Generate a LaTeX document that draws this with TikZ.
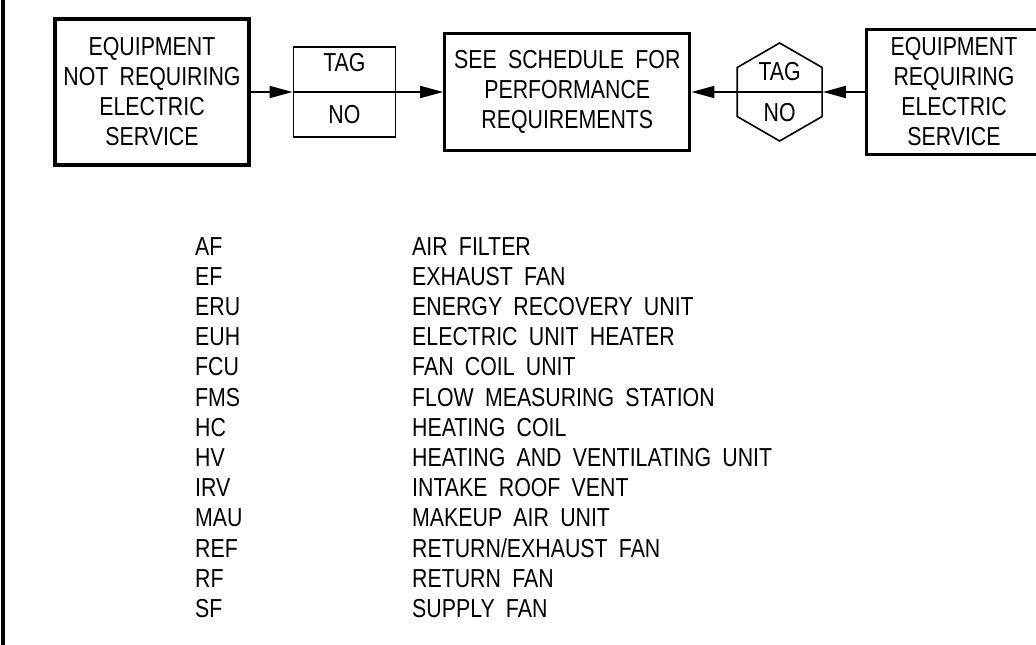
\documentclass[tikz,border=0pt]{standalone}
\usepackage{fontspec}
\setmainfont{Liberation Sans}[FakeStretch=0.82,WordSpace=1.9]
\usetikzlibrary{arrows.meta,positioning,shapes.geometric}

\begin{document}
\begin{tikzpicture}[>={Triangle[length=23pt,width=12pt]}, x=1pt, y=-1pt,
    font=\fontsize{26}{30}\selectfont]
  \tikzstyle{heavybox}=[draw, line width=3.2pt, align=center, inner sep=2pt]
  \tikzstyle{tagbox}=[draw, line width=1.6pt, minimum width=102pt, minimum height=90pt, inner sep=0pt]
  \tikzstyle{taghex}=[draw, line width=1.6pt, regular polygon, regular polygon sides=6, shape border rotate=30, minimum size=98pt, inner sep=0pt]
  \tikzstyle{flow}=[->, line width=1.6pt]
  \tikzstyle{legend}=[anchor=north west, align=left, inner sep=0pt, font=\fontsize{26}{30.2}\selectfont]

  \useasboundingbox (0,0) rectangle (1036,645);
  \draw[line width=4pt] (3,0) -- (3,645);

  % flow of tags
  \node[heavybox, minimum width=194pt, minimum height=146pt] (noelec) at (152,92) {EQUIPMENT\\NOT REQUIRING\\ELECTRIC\\SERVICE};
  \node[tagbox, right=42pt of noelec] (tag) {};
  \node[heavybox, minimum width=245pt, minimum height=117pt, right=47pt of tag] (sched) {SEE SCHEDULE FOR\\PERFORMANCE\\REQUIREMENTS};
  \node[taghex, right=45pt of sched] (hex) {};
  \node[heavybox, minimum width=175pt, minimum height=125pt, right=42pt of hex] (elec) {EQUIPMENT\\REQUIRING\\ELECTRIC\\SERVICE};

  \node (tagtop) at ([yshift=29pt]tag.center) {TAG};
  \node (tagbot) at ([yshift=-23pt]tag.center) {NO};
  \node (hextop) at ([yshift=20pt]hex.center) {TAG};
  \node (hexbot) at ([yshift=-21pt]hex.center) {NO};

  \draw[flow] (noelec.east) -- (tag.west);
  \draw[flow] (tag.west) -- (sched.west);
  \draw[flow] (elec.west) -- (hex.east);
  \draw[flow] (hex.east) -- (sched.east);

  % abbreviations
  \node[legend] (abbr) at (195,237) {AF\\EF\\ERU\\EUH\\FCU\\FMS\\HC\\HV\\IRV\\MAU\\REF\\RF\\SF};
  \node[legend] (desc) at (412,237) {AIR FILTER\\EXHAUST FAN\\ENERGY RECOVERY UNIT\\ELECTRIC UNIT HEATER\\FAN COIL UNIT\\FLOW MEASURING STATION\\HEATING COIL\\HEATING AND VENTILATING UNIT\\INTAKE ROOF VENT\\MAKEUP AIR UNIT\\RETURN/EXHAUST FAN\\RETURN FAN\\SUPPLY FAN};
\end{tikzpicture}
\end{document}
